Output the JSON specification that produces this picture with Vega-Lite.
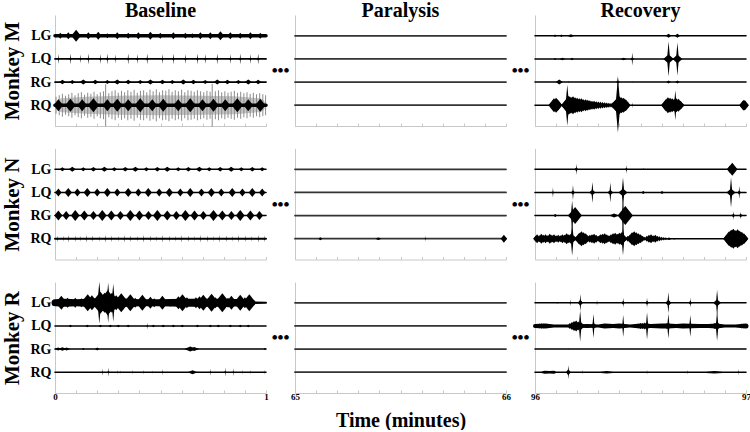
{
"$schema":"https://vega.github.io/schema/vega-lite/v6.json",
"background":"white",
"padding":{"left":1,"top":0,"right":0,"bottom":0},
"columns":3,
"spacing":{"row":22.5,"column":29},
"bounds":"flush",
"datasets":{
"M_B_trace":[
{"muscle":"LG","t":0,"amp":25},{"muscle":"LG","t":1,"amp":25},{"muscle":"LQ","t":0,"amp":8},{"muscle":"LQ","t":1,"amp":8},{"muscle":"RG","t":0,"amp":8},{"muscle":"RG","t":1,"amp":8},{"muscle":"RQ","t":0,"amp":25},{"muscle":"RQ","t":1,"amp":25}
],
"M_B_noise":[
{"muscle":"RQ","t":0,"amp":20},{"muscle":"RQ","t":0.035,"amp":130},{"muscle":"RQ","t":0.15,"amp":160},{"muscle":"RQ","t":0.3,"amp":180},{"muscle":"RQ","t":0.5,"amp":190},{"muscle":"RQ","t":0.7,"amp":180},{"muscle":"RQ","t":0.85,"amp":170},{"muscle":"RQ","t":0.965,"amp":130},{"muscle":"RQ","t":1,"amp":20}
],
"M_B_hatch":[
{"muscle":"RQ","t":0.005,"amp":170},{"muscle":"RQ","t":0.02,"amp":200},{"muscle":"RQ","t":0.035,"amp":230},{"muscle":"RQ","t":0.05,"amp":190},{"muscle":"RQ","t":0.065,"amp":220},{"muscle":"RQ","t":0.08,"amp":250},{"muscle":"RQ","t":0.095,"amp":200},{"muscle":"RQ","t":0.11,"amp":240},{"muscle":"RQ","t":0.125,"amp":260},{"muscle":"RQ","t":0.14,"amp":210},{"muscle":"RQ","t":0.155,"amp":250},{"muscle":"RQ","t":0.17,"amp":230},{"muscle":"RQ","t":0.185,"amp":270},{"muscle":"RQ","t":0.2,"amp":220},{"muscle":"RQ","t":0.215,"amp":260},{"muscle":"RQ","t":0.23,"amp":280},{"muscle":"RQ","t":0.24,"amp":420},{"muscle":"RQ","t":0.255,"amp":240},{"muscle":"RQ","t":0.27,"amp":280},{"muscle":"RQ","t":0.285,"amp":300},{"muscle":"RQ","t":0.3,"amp":250},{"muscle":"RQ","t":0.315,"amp":290},{"muscle":"RQ","t":0.33,"amp":260},{"muscle":"RQ","t":0.345,"amp":300},{"muscle":"RQ","t":0.36,"amp":270},{"muscle":"RQ","t":0.375,"amp":310},{"muscle":"RQ","t":0.39,"amp":250},{"muscle":"RQ","t":0.405,"amp":290},{"muscle":"RQ","t":0.42,"amp":300},{"muscle":"RQ","t":0.435,"amp":260},{"muscle":"RQ","t":0.45,"amp":310},{"muscle":"RQ","t":0.465,"amp":280},{"muscle":"RQ","t":0.48,"amp":320},{"muscle":"RQ","t":0.495,"amp":260},{"muscle":"RQ","t":0.51,"amp":300},{"muscle":"RQ","t":0.525,"amp":290},{"muscle":"RQ","t":0.54,"amp":320},{"muscle":"RQ","t":0.555,"amp":270},{"muscle":"RQ","t":0.57,"amp":300},{"muscle":"RQ","t":0.585,"amp":280},{"muscle":"RQ","t":0.6,"amp":310},{"muscle":"RQ","t":0.615,"amp":260},{"muscle":"RQ","t":0.63,"amp":300},{"muscle":"RQ","t":0.645,"amp":290},{"muscle":"RQ","t":0.66,"amp":270},{"muscle":"RQ","t":0.675,"amp":300},{"muscle":"RQ","t":0.69,"amp":280},{"muscle":"RQ","t":0.705,"amp":260},{"muscle":"RQ","t":0.72,"amp":290},{"muscle":"RQ","t":0.735,"amp":270},{"muscle":"RQ","t":0.745,"amp":430},{"muscle":"RQ","t":0.76,"amp":280},{"muscle":"RQ","t":0.775,"amp":300},{"muscle":"RQ","t":0.79,"amp":260},{"muscle":"RQ","t":0.805,"amp":280},{"muscle":"RQ","t":0.82,"amp":250},{"muscle":"RQ","t":0.835,"amp":270},{"muscle":"RQ","t":0.85,"amp":290},{"muscle":"RQ","t":0.865,"amp":250},{"muscle":"RQ","t":0.88,"amp":270},{"muscle":"RQ","t":0.895,"amp":240},{"muscle":"RQ","t":0.91,"amp":260},{"muscle":"RQ","t":0.925,"amp":230},{"muscle":"RQ","t":0.94,"amp":250},{"muscle":"RQ","t":0.955,"amp":220},{"muscle":"RQ","t":0.97,"amp":240},{"muscle":"RQ","t":0.985,"amp":220},{"muscle":"RQ","t":0.998,"amp":200}
],
"M_B_burst":[
{"muscle":"LG","t":0.025,"amp":60,"form":"burst"},{"muscle":"LG","t":0.063,"amp":70,"form":"burst"},{"muscle":"LG","t":0.1,"amp":120,"form":"burst"},{"muscle":"LG","t":0.158,"amp":70,"form":"burst"},{"muscle":"LG","t":0.205,"amp":80,"form":"burst"},{"muscle":"LG","t":0.248,"amp":50,"form":"burst"},{"muscle":"LG","t":0.295,"amp":70,"form":"burst"},{"muscle":"LG","t":0.347,"amp":60,"form":"burst"},{"muscle":"LG","t":0.395,"amp":70,"form":"burst"},{"muscle":"LG","t":0.452,"amp":80,"form":"burst"},{"muscle":"LG","t":0.499,"amp":60,"form":"burst"},{"muscle":"LG","t":0.561,"amp":70,"form":"burst"},{"muscle":"LG","t":0.618,"amp":60,"form":"burst"},{"muscle":"LG","t":0.651,"amp":50,"form":"burst"},{"muscle":"LG","t":0.689,"amp":70,"form":"burst"},{"muscle":"LG","t":0.736,"amp":70,"form":"burst"},{"muscle":"LG","t":0.784,"amp":90,"form":"burst"},{"muscle":"LG","t":0.831,"amp":70,"form":"burst"},{"muscle":"LG","t":0.878,"amp":60,"form":"burst"},{"muscle":"LG","t":0.926,"amp":70,"form":"burst"},{"muscle":"LG","t":0.973,"amp":60,"form":"burst"},
{"muscle":"LQ","t":0.016,"amp":100,"form":"spike"},{"muscle":"LQ","t":0.073,"amp":110,"form":"spike"},{"muscle":"LQ","t":0.12,"amp":90,"form":"spike"},{"muscle":"LQ","t":0.158,"amp":110,"form":"spike"},{"muscle":"LQ","t":0.215,"amp":100,"form":"spike"},{"muscle":"LQ","t":0.248,"amp":110,"form":"spike"},{"muscle":"LQ","t":0.286,"amp":90,"form":"spike"},{"muscle":"LQ","t":0.347,"amp":110,"form":"spike"},{"muscle":"LQ","t":0.39,"amp":100,"form":"spike"},{"muscle":"LQ","t":0.437,"amp":110,"form":"spike"},{"muscle":"LQ","t":0.509,"amp":100,"form":"spike"},{"muscle":"LQ","t":0.561,"amp":110,"form":"spike"},{"muscle":"LQ","t":0.618,"amp":100,"form":"spike"},{"muscle":"LQ","t":0.675,"amp":110,"form":"spike"},{"muscle":"LQ","t":0.712,"amp":100,"form":"spike"},{"muscle":"LQ","t":0.769,"amp":110,"form":"spike"},{"muscle":"LQ","t":0.831,"amp":100,"form":"spike"},{"muscle":"LQ","t":0.878,"amp":110,"form":"spike"},{"muscle":"LQ","t":0.926,"amp":100,"form":"spike"},{"muscle":"LQ","t":0.963,"amp":110,"form":"spike"},
{"muscle":"RG","t":0.035,"amp":45,"form":"blob"},{"muscle":"RG","t":0.082,"amp":40,"form":"blob"},{"muscle":"RG","t":0.134,"amp":50,"form":"blob"},{"muscle":"RG","t":0.191,"amp":45,"form":"blob"},{"muscle":"RG","t":0.248,"amp":40,"form":"blob"},{"muscle":"RG","t":0.295,"amp":50,"form":"blob"},{"muscle":"RG","t":0.347,"amp":45,"form":"blob"},{"muscle":"RG","t":0.404,"amp":40,"form":"blob"},{"muscle":"RG","t":0.452,"amp":50,"form":"blob"},{"muscle":"RG","t":0.509,"amp":45,"form":"blob"},{"muscle":"RG","t":0.556,"amp":40,"form":"blob"},{"muscle":"RG","t":0.608,"amp":50,"form":"blob"},{"muscle":"RG","t":0.656,"amp":45,"form":"blob"},{"muscle":"RG","t":0.712,"amp":40,"form":"blob"},{"muscle":"RG","t":0.769,"amp":50,"form":"blob"},{"muscle":"RG","t":0.817,"amp":45,"form":"blob"},{"muscle":"RG","t":0.869,"amp":40,"form":"blob"},{"muscle":"RG","t":0.916,"amp":50,"form":"blob"},{"muscle":"RG","t":0.963,"amp":45,"form":"blob"},
{"muscle":"RQ","t":0.016,"amp":120,"form":"burst"},{"muscle":"RQ","t":0.073,"amp":130,"form":"burst"},{"muscle":"RQ","t":0.129,"amp":120,"form":"burst"},{"muscle":"RQ","t":0.182,"amp":140,"form":"burst"},{"muscle":"RQ","t":0.248,"amp":120,"form":"burst"},{"muscle":"RQ","t":0.295,"amp":130,"form":"burst"},{"muscle":"RQ","t":0.347,"amp":120,"form":"burst"},{"muscle":"RQ","t":0.404,"amp":140,"form":"burst"},{"muscle":"RQ","t":0.461,"amp":120,"form":"burst"},{"muscle":"RQ","t":0.513,"amp":130,"form":"burst"},{"muscle":"RQ","t":0.584,"amp":120,"form":"burst"},{"muscle":"RQ","t":0.641,"amp":140,"form":"burst"},{"muscle":"RQ","t":0.699,"amp":120,"form":"burst"},{"muscle":"RQ","t":0.751,"amp":130,"form":"burst"},{"muscle":"RQ","t":0.807,"amp":120,"form":"burst"},{"muscle":"RQ","t":0.864,"amp":140,"form":"burst"},{"muscle":"RQ","t":0.916,"amp":120,"form":"burst"},{"muscle":"RQ","t":0.973,"amp":130,"form":"burst"}
],
"M_P_trace":[
{"muscle":"LG","t":65,"amp":8},{"muscle":"LG","t":66,"amp":8},{"muscle":"LQ","t":65,"amp":8},{"muscle":"LQ","t":66,"amp":8},{"muscle":"RG","t":65,"amp":8},{"muscle":"RG","t":66,"amp":8},{"muscle":"RQ","t":65,"amp":8},{"muscle":"RQ","t":66,"amp":8}
],
"M_R_trace":[
{"muscle":"LG","t":96,"amp":6},{"muscle":"LG","t":97,"amp":6},{"muscle":"LQ","t":96,"amp":6},{"muscle":"LQ","t":97,"amp":6},{"muscle":"RG","t":96,"amp":6},{"muscle":"RG","t":97,"amp":6},{"muscle":"RQ","t":96,"amp":6},{"muscle":"RQ","t":97,"amp":6}
],
"M_R_burst":[
{"muscle":"LG","t":96.095,"amp":25,"form":"blob"},{"muscle":"LG","t":96.125,"amp":25,"form":"blob"},{"muscle":"LG","t":96.17,"amp":30,"form":"wide"},{"muscle":"LG","t":96.4,"amp":20,"form":"spike"},{"muscle":"LG","t":96.633,"amp":40,"form":"blob"},{"muscle":"LG","t":96.675,"amp":40,"form":"blob"},
{"muscle":"LQ","t":96.095,"amp":20,"form":"blob"},{"muscle":"LQ","t":96.13,"amp":25,"form":"wide"},{"muscle":"LQ","t":96.175,"amp":25,"form":"blob"},{"muscle":"LQ","t":96.42,"amp":25,"form":"wide"},{"muscle":"LQ","t":96.461,"amp":130,"form":"spike"},{"muscle":"LQ","t":96.633,"amp":350,"form":"spike"},{"muscle":"LQ","t":96.633,"amp":90,"form":"burst"},{"muscle":"LQ","t":96.675,"amp":330,"form":"spike"},{"muscle":"LQ","t":96.675,"amp":90,"form":"burst"},
{"muscle":"RG","t":96.115,"amp":50,"form":"blob"},{"muscle":"RG","t":96.158,"amp":30,"form":"spike"},{"muscle":"RG","t":96.393,"amp":120,"form":"spike"},{"muscle":"RG","t":96.462,"amp":20,"form":"spike"},{"muscle":"RG","t":96.633,"amp":30,"form":"blob"},{"muscle":"RG","t":96.675,"amp":30,"form":"blob"},
{"muscle":"RQ","t":96.085,"amp":90,"form":"burst"},{"muscle":"RQ","t":96.09,"amp":140,"form":"burst"},{"muscle":"RQ","t":96.095,"amp":120,"form":"burst"},{"muscle":"RQ","t":96.1,"amp":150,"form":"burst"},{"muscle":"RQ","t":96.105,"amp":120,"form":"burst"},{"muscle":"RQ","t":96.11,"amp":100,"form":"burst"},{"muscle":"RQ","t":96.115,"amp":50,"form":"burst"},{"muscle":"RQ","t":96.14,"amp":60,"form":"burst"},{"muscle":"RQ","t":96.145,"amp":90,"form":"burst"},{"muscle":"RQ","t":96.153,"amp":410,"form":"spike"},{"muscle":"RQ","t":96.155,"amp":150,"form":"burst"},{"muscle":"RQ","t":96.16,"amp":190,"form":"burst"},{"muscle":"RQ","t":96.17,"amp":170,"form":"burst"},{"muscle":"RQ","t":96.18,"amp":180,"form":"burst"},{"muscle":"RQ","t":96.19,"amp":160,"form":"burst"},{"muscle":"RQ","t":96.2,"amp":150,"form":"burst"},{"muscle":"RQ","t":96.21,"amp":140,"form":"burst"},{"muscle":"RQ","t":96.22,"amp":140,"form":"burst"},{"muscle":"RQ","t":96.23,"amp":120,"form":"burst"},{"muscle":"RQ","t":96.24,"amp":120,"form":"burst"},{"muscle":"RQ","t":96.25,"amp":110,"form":"burst"},{"muscle":"RQ","t":96.26,"amp":100,"form":"burst"},{"muscle":"RQ","t":96.27,"amp":90,"form":"burst"},{"muscle":"RQ","t":96.28,"amp":90,"form":"burst"},{"muscle":"RQ","t":96.29,"amp":80,"form":"burst"},{"muscle":"RQ","t":96.3,"amp":75,"form":"burst"},{"muscle":"RQ","t":96.31,"amp":70,"form":"burst"},{"muscle":"RQ","t":96.32,"amp":65,"form":"burst"},{"muscle":"RQ","t":96.33,"amp":60,"form":"burst"},{"muscle":"RQ","t":96.34,"amp":55,"form":"burst"},{"muscle":"RQ","t":96.35,"amp":50,"form":"burst"},{"muscle":"RQ","t":96.36,"amp":45,"form":"burst"},{"muscle":"RQ","t":96.37,"amp":40,"form":"burst"},{"muscle":"RQ","t":96.38,"amp":60,"form":"burst"},{"muscle":"RQ","t":96.385,"amp":120,"form":"burst"},{"muscle":"RQ","t":96.39,"amp":150,"form":"burst"},{"muscle":"RQ","t":96.393,"amp":550,"form":"spike"},{"muscle":"RQ","t":96.4,"amp":180,"form":"burst"},{"muscle":"RQ","t":96.41,"amp":160,"form":"burst"},{"muscle":"RQ","t":96.42,"amp":150,"form":"burst"},{"muscle":"RQ","t":96.43,"amp":120,"form":"burst"},{"muscle":"RQ","t":96.44,"amp":60,"form":"burst"},{"muscle":"RQ","t":96.461,"amp":60,"form":"spike"},{"muscle":"RQ","t":96.62,"amp":120,"form":"burst"},{"muscle":"RQ","t":96.63,"amp":160,"form":"burst"},{"muscle":"RQ","t":96.64,"amp":150,"form":"burst"},{"muscle":"RQ","t":96.65,"amp":140,"form":"burst"},{"muscle":"RQ","t":96.66,"amp":130,"form":"burst"},{"muscle":"RQ","t":96.665,"amp":300,"form":"spike"},{"muscle":"RQ","t":96.67,"amp":140,"form":"burst"},{"muscle":"RQ","t":96.68,"amp":130,"form":"burst"},{"muscle":"RQ","t":96.69,"amp":90,"form":"burst"},{"muscle":"RQ","t":96.7,"amp":40,"form":"burst"},{"muscle":"RQ","t":96.985,"amp":90,"form":"burst"},{"muscle":"RQ","t":96.99,"amp":110,"form":"burst"},{"muscle":"RQ","t":96.995,"amp":100,"form":"burst"}
],
"N_B_trace":[
{"muscle":"LG","t":0,"amp":6},{"muscle":"LG","t":1,"amp":6},{"muscle":"LQ","t":0,"amp":6},{"muscle":"LQ","t":1,"amp":6},{"muscle":"RG","t":0,"amp":6},{"muscle":"RG","t":1,"amp":6},{"muscle":"RQ","t":0,"amp":10},{"muscle":"RQ","t":1,"amp":10}
],
"N_B_burst":[
{"muscle":"LG","t":0.035,"amp":40,"form":"blob"},{"muscle":"LG","t":0.082,"amp":50,"form":"blob"},{"muscle":"LG","t":0.134,"amp":40,"form":"blob"},{"muscle":"LG","t":0.182,"amp":45,"form":"blob"},{"muscle":"LG","t":0.234,"amp":50,"form":"blob"},{"muscle":"LG","t":0.281,"amp":40,"form":"blob"},{"muscle":"LG","t":0.333,"amp":45,"form":"blob"},{"muscle":"LG","t":0.381,"amp":50,"form":"blob"},{"muscle":"LG","t":0.433,"amp":40,"form":"blob"},{"muscle":"LG","t":0.485,"amp":45,"form":"blob"},{"muscle":"LG","t":0.532,"amp":50,"form":"blob"},{"muscle":"LG","t":0.584,"amp":40,"form":"blob"},{"muscle":"LG","t":0.632,"amp":45,"form":"blob"},{"muscle":"LG","t":0.684,"amp":50,"form":"blob"},{"muscle":"LG","t":0.731,"amp":40,"form":"blob"},{"muscle":"LG","t":0.783,"amp":45,"form":"blob"},{"muscle":"LG","t":0.835,"amp":50,"form":"blob"},{"muscle":"LG","t":0.883,"amp":40,"form":"blob"},{"muscle":"LG","t":0.935,"amp":45,"form":"blob"},{"muscle":"LG","t":0.982,"amp":40,"form":"blob"},
{"muscle":"LQ","t":0.016,"amp":80,"form":"burst"},{"muscle":"LQ","t":0.063,"amp":90,"form":"burst"},{"muscle":"LQ","t":0.106,"amp":80,"form":"burst"},{"muscle":"LQ","t":0.153,"amp":90,"form":"burst"},{"muscle":"LQ","t":0.2,"amp":80,"form":"burst"},{"muscle":"LQ","t":0.248,"amp":90,"form":"burst"},{"muscle":"LQ","t":0.295,"amp":80,"form":"burst"},{"muscle":"LQ","t":0.347,"amp":90,"form":"burst"},{"muscle":"LQ","t":0.395,"amp":80,"form":"burst"},{"muscle":"LQ","t":0.442,"amp":90,"form":"burst"},{"muscle":"LQ","t":0.494,"amp":80,"form":"burst"},{"muscle":"LQ","t":0.542,"amp":90,"form":"burst"},{"muscle":"LQ","t":0.594,"amp":80,"form":"burst"},{"muscle":"LQ","t":0.641,"amp":90,"form":"burst"},{"muscle":"LQ","t":0.694,"amp":80,"form":"burst"},{"muscle":"LQ","t":0.741,"amp":90,"form":"burst"},{"muscle":"LQ","t":0.788,"amp":80,"form":"burst"},{"muscle":"LQ","t":0.84,"amp":90,"form":"burst"},{"muscle":"LQ","t":0.888,"amp":80,"form":"burst"},{"muscle":"LQ","t":0.935,"amp":90,"form":"burst"},{"muscle":"LQ","t":0.982,"amp":80,"form":"burst"},
{"muscle":"RG","t":0.016,"amp":100,"form":"burst"},{"muscle":"RG","t":0.053,"amp":90,"form":"burst"},{"muscle":"RG","t":0.096,"amp":110,"form":"burst"},{"muscle":"RG","t":0.139,"amp":100,"form":"burst"},{"muscle":"RG","t":0.182,"amp":90,"form":"burst"},{"muscle":"RG","t":0.224,"amp":110,"form":"burst"},{"muscle":"RG","t":0.267,"amp":100,"form":"burst"},{"muscle":"RG","t":0.31,"amp":90,"form":"burst"},{"muscle":"RG","t":0.357,"amp":110,"form":"burst"},{"muscle":"RG","t":0.4,"amp":100,"form":"burst"},{"muscle":"RG","t":0.443,"amp":90,"form":"burst"},{"muscle":"RG","t":0.485,"amp":110,"form":"burst"},{"muscle":"RG","t":0.532,"amp":100,"form":"burst"},{"muscle":"RG","t":0.575,"amp":90,"form":"burst"},{"muscle":"RG","t":0.618,"amp":110,"form":"burst"},{"muscle":"RG","t":0.661,"amp":100,"form":"burst"},{"muscle":"RG","t":0.703,"amp":90,"form":"burst"},{"muscle":"RG","t":0.751,"amp":110,"form":"burst"},{"muscle":"RG","t":0.793,"amp":100,"form":"burst"},{"muscle":"RG","t":0.836,"amp":90,"form":"burst"},{"muscle":"RG","t":0.878,"amp":110,"form":"burst"},{"muscle":"RG","t":0.926,"amp":100,"form":"burst"},{"muscle":"RG","t":0.969,"amp":90,"form":"burst"},
{"muscle":"RQ","t":0.011,"amp":70,"form":"spike"},{"muscle":"RQ","t":0.039,"amp":60,"form":"spike"},{"muscle":"RQ","t":0.063,"amp":80,"form":"spike"},{"muscle":"RQ","t":0.096,"amp":70,"form":"spike"},{"muscle":"RQ","t":0.12,"amp":60,"form":"spike"},{"muscle":"RQ","t":0.148,"amp":80,"form":"spike"},{"muscle":"RQ","t":0.177,"amp":70,"form":"spike"},{"muscle":"RQ","t":0.21,"amp":60,"form":"spike"},{"muscle":"RQ","t":0.238,"amp":80,"form":"spike"},{"muscle":"RQ","t":0.267,"amp":70,"form":"spike"},{"muscle":"RQ","t":0.3,"amp":60,"form":"spike"},{"muscle":"RQ","t":0.328,"amp":80,"form":"spike"},{"muscle":"RQ","t":0.357,"amp":70,"form":"spike"},{"muscle":"RQ","t":0.39,"amp":60,"form":"spike"},{"muscle":"RQ","t":0.419,"amp":80,"form":"spike"},{"muscle":"RQ","t":0.452,"amp":70,"form":"spike"},{"muscle":"RQ","t":0.48,"amp":60,"form":"spike"},{"muscle":"RQ","t":0.508,"amp":80,"form":"spike"},{"muscle":"RQ","t":0.542,"amp":70,"form":"spike"},{"muscle":"RQ","t":0.57,"amp":60,"form":"spike"},{"muscle":"RQ","t":0.598,"amp":80,"form":"spike"},{"muscle":"RQ","t":0.632,"amp":70,"form":"spike"},{"muscle":"RQ","t":0.66,"amp":60,"form":"spike"},{"muscle":"RQ","t":0.689,"amp":80,"form":"spike"},{"muscle":"RQ","t":0.722,"amp":70,"form":"spike"},{"muscle":"RQ","t":0.75,"amp":60,"form":"spike"},{"muscle":"RQ","t":0.778,"amp":80,"form":"spike"},{"muscle":"RQ","t":0.812,"amp":70,"form":"spike"},{"muscle":"RQ","t":0.84,"amp":60,"form":"spike"},{"muscle":"RQ","t":0.869,"amp":80,"form":"spike"},{"muscle":"RQ","t":0.902,"amp":70,"form":"spike"},{"muscle":"RQ","t":0.931,"amp":60,"form":"spike"},{"muscle":"RQ","t":0.964,"amp":80,"form":"spike"},{"muscle":"RQ","t":0.992,"amp":70,"form":"spike"}
],
"N_P_trace":[
{"muscle":"LG","t":65,"amp":8},{"muscle":"LG","t":66,"amp":8},{"muscle":"LQ","t":65,"amp":8},{"muscle":"LQ","t":66,"amp":8},{"muscle":"RG","t":65,"amp":8},{"muscle":"RG","t":66,"amp":8},{"muscle":"RQ","t":65,"amp":8},{"muscle":"RQ","t":66,"amp":8}
],
"N_P_burst":[
{"muscle":"RQ","t":65.12,"amp":30,"form":"blob"},{"muscle":"RQ","t":65.395,"amp":25,"form":"wide"},{"muscle":"RQ","t":65.618,"amp":60,"form":"spike"},{"muscle":"RQ","t":65.99,"amp":80,"form":"burst"}
],
"N_R_trace":[
{"muscle":"LG","t":96,"amp":6},{"muscle":"LG","t":97,"amp":6},{"muscle":"LQ","t":96,"amp":6},{"muscle":"LQ","t":97,"amp":6},{"muscle":"RG","t":96,"amp":6},{"muscle":"RG","t":97,"amp":6},{"muscle":"RQ","t":96,"amp":6},{"muscle":"RQ","t":97,"amp":6}
],
"N_R_burst":[
{"muscle":"LG","t":96.082,"amp":20,"form":"spike"},{"muscle":"LG","t":96.196,"amp":110,"form":"spike"},{"muscle":"LG","t":96.196,"amp":40,"form":"burst"},{"muscle":"LG","t":96.433,"amp":90,"form":"spike"},{"muscle":"LG","t":96.433,"amp":30,"form":"burst"},{"muscle":"LG","t":96.514,"amp":15,"form":"blob"},{"muscle":"LG","t":96.925,"amp":80,"form":"burst"},{"muscle":"LG","t":96.935,"amp":130,"form":"burst"},
{"muscle":"LQ","t":96.085,"amp":100,"form":"spike"},{"muscle":"LQ","t":96.18,"amp":150,"form":"spike"},{"muscle":"LQ","t":96.18,"amp":40,"form":"burst"},{"muscle":"LQ","t":96.272,"amp":210,"form":"spike"},{"muscle":"LQ","t":96.272,"amp":50,"form":"burst"},{"muscle":"LQ","t":96.357,"amp":200,"form":"spike"},{"muscle":"LQ","t":96.357,"amp":40,"form":"burst"},{"muscle":"LQ","t":96.417,"amp":300,"form":"spike"},{"muscle":"LQ","t":96.513,"amp":30,"form":"blob"},{"muscle":"LQ","t":96.602,"amp":30,"form":"blob"},{"muscle":"LQ","t":96.929,"amp":300,"form":"spike"},{"muscle":"LQ","t":96.968,"amp":130,"form":"spike"},{"muscle":"LQ","t":96.968,"amp":40,"form":"burst"},
{"muscle":"RG","t":96.096,"amp":30,"form":"blob"},{"muscle":"RG","t":96.176,"amp":300,"form":"spike"},{"muscle":"RG","t":96.19,"amp":170,"form":"burst"},{"muscle":"RG","t":96.276,"amp":20,"form":"spike"},{"muscle":"RG","t":96.375,"amp":40,"form":"wide"},{"muscle":"RG","t":96.417,"amp":300,"form":"spike"},{"muscle":"RG","t":96.428,"amp":190,"form":"burst"},{"muscle":"RG","t":96.94,"amp":90,"form":"spike"},{"muscle":"RG","t":96.94,"amp":40,"form":"burst"},{"muscle":"RG","t":96.975,"amp":80,"form":"spike"},{"muscle":"RG","t":96.975,"amp":40,"form":"burst"},
{"muscle":"RQ","t":96.003,"amp":60,"form":"burst"},{"muscle":"RQ","t":96.01,"amp":90,"form":"burst"},{"muscle":"RQ","t":96.02,"amp":70,"form":"burst"},{"muscle":"RQ","t":96.03,"amp":100,"form":"burst"},{"muscle":"RQ","t":96.04,"amp":80,"form":"burst"},{"muscle":"RQ","t":96.05,"amp":90,"form":"burst"},{"muscle":"RQ","t":96.06,"amp":70,"form":"burst"},{"muscle":"RQ","t":96.07,"amp":100,"form":"burst"},{"muscle":"RQ","t":96.08,"amp":80,"form":"burst"},{"muscle":"RQ","t":96.09,"amp":90,"form":"burst"},{"muscle":"RQ","t":96.1,"amp":70,"form":"burst"},{"muscle":"RQ","t":96.11,"amp":80,"form":"burst"},{"muscle":"RQ","t":96.12,"amp":70,"form":"burst"},{"muscle":"RQ","t":96.13,"amp":90,"form":"burst"},{"muscle":"RQ","t":96.14,"amp":80,"form":"burst"},{"muscle":"RQ","t":96.15,"amp":110,"form":"burst"},{"muscle":"RQ","t":96.16,"amp":90,"form":"burst"},{"muscle":"RQ","t":96.17,"amp":100,"form":"burst"},{"muscle":"RQ","t":96.176,"amp":340,"form":"spike"},{"muscle":"RQ","t":96.18,"amp":60,"form":"burst"},{"muscle":"RQ","t":96.19,"amp":40,"form":"burst"},{"muscle":"RQ","t":96.2,"amp":60,"form":"burst"},{"muscle":"RQ","t":96.21,"amp":120,"form":"burst"},{"muscle":"RQ","t":96.22,"amp":150,"form":"burst"},{"muscle":"RQ","t":96.23,"amp":130,"form":"burst"},{"muscle":"RQ","t":96.24,"amp":110,"form":"burst"},{"muscle":"RQ","t":96.25,"amp":70,"form":"burst"},{"muscle":"RQ","t":96.26,"amp":80,"form":"burst"},{"muscle":"RQ","t":96.27,"amp":90,"form":"burst"},{"muscle":"RQ","t":96.28,"amp":100,"form":"burst"},{"muscle":"RQ","t":96.29,"amp":80,"form":"burst"},{"muscle":"RQ","t":96.3,"amp":60,"form":"burst"},{"muscle":"RQ","t":96.31,"amp":90,"form":"burst"},{"muscle":"RQ","t":96.32,"amp":100,"form":"burst"},{"muscle":"RQ","t":96.33,"amp":110,"form":"burst"},{"muscle":"RQ","t":96.34,"amp":90,"form":"burst"},{"muscle":"RQ","t":96.35,"amp":70,"form":"burst"},{"muscle":"RQ","t":96.36,"amp":90,"form":"burst"},{"muscle":"RQ","t":96.37,"amp":110,"form":"burst"},{"muscle":"RQ","t":96.38,"amp":120,"form":"burst"},{"muscle":"RQ","t":96.39,"amp":100,"form":"burst"},{"muscle":"RQ","t":96.4,"amp":120,"form":"burst"},{"muscle":"RQ","t":96.41,"amp":130,"form":"burst"},{"muscle":"RQ","t":96.417,"amp":330,"form":"spike"},{"muscle":"RQ","t":96.42,"amp":80,"form":"burst"},{"muscle":"RQ","t":96.43,"amp":40,"form":"burst"},{"muscle":"RQ","t":96.44,"amp":60,"form":"burst"},{"muscle":"RQ","t":96.45,"amp":80,"form":"burst"},{"muscle":"RQ","t":96.46,"amp":130,"form":"burst"},{"muscle":"RQ","t":96.47,"amp":150,"form":"burst"},{"muscle":"RQ","t":96.48,"amp":130,"form":"burst"},{"muscle":"RQ","t":96.49,"amp":110,"form":"burst"},{"muscle":"RQ","t":96.5,"amp":90,"form":"burst"},{"muscle":"RQ","t":96.51,"amp":60,"form":"burst"},{"muscle":"RQ","t":96.52,"amp":40,"form":"burst"},{"muscle":"RQ","t":96.53,"amp":60,"form":"burst"},{"muscle":"RQ","t":96.54,"amp":80,"form":"burst"},{"muscle":"RQ","t":96.55,"amp":90,"form":"burst"},{"muscle":"RQ","t":96.56,"amp":70,"form":"burst"},{"muscle":"RQ","t":96.57,"amp":80,"form":"burst"},{"muscle":"RQ","t":96.58,"amp":60,"form":"burst"},{"muscle":"RQ","t":96.59,"amp":50,"form":"burst"},{"muscle":"RQ","t":96.6,"amp":40,"form":"burst"},{"muscle":"RQ","t":96.61,"amp":35,"form":"burst"},{"muscle":"RQ","t":96.62,"amp":30,"form":"burst"},{"muscle":"RQ","t":96.635,"amp":25,"form":"wide"},{"muscle":"RQ","t":96.66,"amp":15,"form":"wide"},{"muscle":"RQ","t":96.91,"amp":80,"form":"burst"},{"muscle":"RQ","t":96.92,"amp":150,"form":"burst"},{"muscle":"RQ","t":96.93,"amp":180,"form":"burst"},{"muscle":"RQ","t":96.94,"amp":200,"form":"burst"},{"muscle":"RQ","t":96.95,"amp":170,"form":"burst"},{"muscle":"RQ","t":96.96,"amp":190,"form":"burst"},{"muscle":"RQ","t":96.97,"amp":160,"form":"burst"},{"muscle":"RQ","t":96.98,"amp":140,"form":"burst"},{"muscle":"RQ","t":96.99,"amp":110,"form":"burst"},{"muscle":"RQ","t":96.997,"amp":70,"form":"burst"}
],
"R_B_trace":[
{"muscle":"LG","t":0,"amp":60},{"muscle":"LG","t":0.05,"amp":70},{"muscle":"LG","t":0.1,"amp":60},{"muscle":"LG","t":0.2,"amp":80},{"muscle":"LG","t":0.3,"amp":80},{"muscle":"LG","t":0.4,"amp":60},{"muscle":"LG","t":0.5,"amp":60},{"muscle":"LG","t":0.6,"amp":70},{"muscle":"LG","t":0.7,"amp":70},{"muscle":"LG","t":0.8,"amp":70},{"muscle":"LG","t":0.9,"amp":60},{"muscle":"LG","t":0.935,"amp":50},{"muscle":"LG","t":0.95,"amp":15},{"muscle":"LG","t":1,"amp":10},
{"muscle":"LQ","t":0,"amp":6},{"muscle":"LQ","t":1,"amp":6},{"muscle":"RG","t":0,"amp":6},{"muscle":"RG","t":1,"amp":6},{"muscle":"RQ","t":0,"amp":6},{"muscle":"RQ","t":1,"amp":6}
],
"R_B_burst":[
{"muscle":"LG","t":0.03,"amp":140,"form":"burst"},{"muscle":"LG","t":0.06,"amp":100,"form":"burst"},{"muscle":"LG","t":0.096,"amp":100,"form":"burst"},{"muscle":"LG","t":0.125,"amp":90,"form":"burst"},{"muscle":"LG","t":0.155,"amp":170,"form":"burst"},{"muscle":"LG","t":0.175,"amp":150,"form":"burst"},{"muscle":"LG","t":0.21,"amp":420,"form":"spike"},{"muscle":"LG","t":0.215,"amp":220,"form":"burst"},{"muscle":"LG","t":0.235,"amp":200,"form":"burst"},{"muscle":"LG","t":0.25,"amp":250,"form":"burst"},{"muscle":"LG","t":0.252,"amp":400,"form":"spike"},{"muscle":"LG","t":0.27,"amp":200,"form":"burst"},{"muscle":"LG","t":0.276,"amp":380,"form":"spike"},{"muscle":"LG","t":0.29,"amp":150,"form":"burst"},{"muscle":"LG","t":0.314,"amp":190,"form":"burst"},{"muscle":"LG","t":0.357,"amp":170,"form":"burst"},{"muscle":"LG","t":0.38,"amp":100,"form":"burst"},{"muscle":"LG","t":0.414,"amp":160,"form":"burst"},{"muscle":"LG","t":0.452,"amp":120,"form":"burst"},{"muscle":"LG","t":0.47,"amp":90,"form":"burst"},{"muscle":"LG","t":0.509,"amp":140,"form":"burst"},{"muscle":"LG","t":0.546,"amp":80,"form":"burst"},{"muscle":"LG","t":0.585,"amp":130,"form":"burst"},{"muscle":"LG","t":0.604,"amp":170,"form":"burst"},{"muscle":"LG","t":0.625,"amp":110,"form":"burst"},{"muscle":"LG","t":0.668,"amp":110,"form":"burst"},{"muscle":"LG","t":0.685,"amp":130,"form":"burst"},{"muscle":"LG","t":0.703,"amp":160,"form":"burst"},{"muscle":"LG","t":0.742,"amp":180,"form":"burst"},{"muscle":"LG","t":0.76,"amp":110,"form":"burst"},{"muscle":"LG","t":0.793,"amp":190,"form":"burst"},{"muscle":"LG","t":0.82,"amp":100,"form":"burst"},{"muscle":"LG","t":0.836,"amp":140,"form":"burst"},{"muscle":"LG","t":0.878,"amp":160,"form":"burst"},{"muscle":"LG","t":0.9,"amp":110,"form":"burst"},{"muscle":"LG","t":0.921,"amp":170,"form":"burst"},
{"muscle":"LQ","t":0.073,"amp":25,"form":"blob"},{"muscle":"LQ","t":0.153,"amp":25,"form":"blob"},{"muscle":"LQ","t":0.215,"amp":25,"form":"blob"},{"muscle":"LQ","t":0.262,"amp":25,"form":"blob"},{"muscle":"LQ","t":0.3,"amp":25,"form":"blob"},{"muscle":"LQ","t":0.347,"amp":25,"form":"blob"},{"muscle":"LQ","t":0.437,"amp":70,"form":"spike"},{"muscle":"LQ","t":0.466,"amp":25,"form":"blob"},{"muscle":"LQ","t":0.513,"amp":25,"form":"blob"},{"muscle":"LQ","t":0.561,"amp":25,"form":"blob"},{"muscle":"LQ","t":0.603,"amp":25,"form":"blob"},{"muscle":"LQ","t":0.675,"amp":25,"form":"blob"},{"muscle":"LQ","t":0.736,"amp":25,"form":"blob"},{"muscle":"LQ","t":0.774,"amp":25,"form":"blob"},{"muscle":"LQ","t":0.831,"amp":25,"form":"blob"},{"muscle":"LQ","t":0.878,"amp":25,"form":"blob"},{"muscle":"LQ","t":0.916,"amp":25,"form":"blob"},
{"muscle":"RG","t":0.015,"amp":30,"form":"wide"},{"muscle":"RG","t":0.035,"amp":35,"form":"wide"},{"muscle":"RG","t":0.055,"amp":30,"form":"wide"},{"muscle":"RG","t":0.134,"amp":20,"form":"blob"},{"muscle":"RG","t":0.2,"amp":30,"form":"blob"},{"muscle":"RG","t":0.641,"amp":50,"form":"wide"},{"muscle":"RG","t":0.66,"amp":40,"form":"wide"},{"muscle":"RG","t":0.995,"amp":20,"form":"blob"},
{"muscle":"RQ","t":0.058,"amp":20,"form":"spike"},{"muscle":"RQ","t":0.153,"amp":20,"form":"spike"},{"muscle":"RQ","t":0.224,"amp":70,"form":"spike"},{"muscle":"RQ","t":0.253,"amp":90,"form":"spike"},{"muscle":"RQ","t":0.296,"amp":50,"form":"spike"},{"muscle":"RQ","t":0.31,"amp":40,"form":"spike"},{"muscle":"RQ","t":0.366,"amp":50,"form":"spike"},{"muscle":"RQ","t":0.419,"amp":50,"form":"spike"},{"muscle":"RQ","t":0.461,"amp":40,"form":"spike"},{"muscle":"RQ","t":0.509,"amp":60,"form":"spike"},{"muscle":"RQ","t":0.652,"amp":40,"form":"wide"},{"muscle":"RQ","t":0.736,"amp":70,"form":"spike"},{"muscle":"RQ","t":0.807,"amp":90,"form":"spike"},{"muscle":"RQ","t":0.845,"amp":80,"form":"spike"},{"muscle":"RQ","t":0.888,"amp":50,"form":"spike"},{"muscle":"RQ","t":0.926,"amp":50,"form":"spike"},{"muscle":"RQ","t":0.995,"amp":50,"form":"spike"}
],
"R_P_trace":[
{"muscle":"LG","t":65,"amp":8},{"muscle":"LG","t":66,"amp":8},{"muscle":"LQ","t":65,"amp":8},{"muscle":"LQ","t":66,"amp":8},{"muscle":"RG","t":65,"amp":8},{"muscle":"RG","t":66,"amp":8},{"muscle":"RQ","t":65,"amp":8},{"muscle":"RQ","t":66,"amp":8}
],
"R_R_trace":[
{"muscle":"LG","t":96,"amp":6},{"muscle":"LG","t":97,"amp":6},
{"muscle":"LQ","t":96,"amp":30},{"muscle":"LQ","t":96.05,"amp":40},{"muscle":"LQ","t":96.09,"amp":20},{"muscle":"LQ","t":96.15,"amp":20},{"muscle":"LQ","t":96.25,"amp":30},{"muscle":"LQ","t":96.3,"amp":20},{"muscle":"LQ","t":96.33,"amp":40},{"muscle":"LQ","t":96.37,"amp":30},{"muscle":"LQ","t":96.4,"amp":40},{"muscle":"LQ","t":96.45,"amp":20},{"muscle":"LQ","t":96.5,"amp":40},{"muscle":"LQ","t":96.55,"amp":30},{"muscle":"LQ","t":96.6,"amp":40},{"muscle":"LQ","t":96.63,"amp":40},{"muscle":"LQ","t":96.67,"amp":30},{"muscle":"LQ","t":96.7,"amp":40},{"muscle":"LQ","t":96.78,"amp":30},{"muscle":"LQ","t":96.82,"amp":30},{"muscle":"LQ","t":96.86,"amp":40},{"muscle":"LQ","t":96.9,"amp":20},{"muscle":"LQ","t":96.95,"amp":20},{"muscle":"LQ","t":97,"amp":40},
{"muscle":"RG","t":96,"amp":6},{"muscle":"RG","t":97,"amp":6},
{"muscle":"RQ","t":96,"amp":6},{"muscle":"RQ","t":96.03,"amp":6},{"muscle":"RQ","t":96.045,"amp":20},{"muscle":"RQ","t":96.07,"amp":15},{"muscle":"RQ","t":96.09,"amp":20},{"muscle":"RQ","t":96.1,"amp":6},{"muscle":"RQ","t":96.31,"amp":6},{"muscle":"RQ","t":96.34,"amp":15},{"muscle":"RQ","t":96.37,"amp":6},{"muscle":"RQ","t":96.81,"amp":6},{"muscle":"RQ","t":96.85,"amp":15},{"muscle":"RQ","t":96.89,"amp":6},{"muscle":"RQ","t":97,"amp":6}
],
"R_R_burst":[
{"muscle":"LG","t":96.106,"amp":15,"form":"blob"},{"muscle":"LG","t":96.167,"amp":70,"form":"spike"},{"muscle":"LG","t":96.215,"amp":170,"form":"spike"},{"muscle":"LG","t":96.215,"amp":60,"form":"burst"},{"muscle":"LG","t":96.294,"amp":60,"form":"spike"},{"muscle":"LG","t":96.418,"amp":100,"form":"spike"},{"muscle":"LG","t":96.418,"amp":40,"form":"burst"},{"muscle":"LG","t":96.531,"amp":100,"form":"spike"},{"muscle":"LG","t":96.531,"amp":40,"form":"burst"},{"muscle":"LG","t":96.632,"amp":210,"form":"spike"},{"muscle":"LG","t":96.632,"amp":60,"form":"burst"},{"muscle":"LG","t":96.736,"amp":100,"form":"spike"},{"muscle":"LG","t":96.736,"amp":40,"form":"burst"},{"muscle":"LG","t":96.863,"amp":260,"form":"spike"},{"muscle":"LG","t":96.863,"amp":60,"form":"burst"},
{"muscle":"LQ","t":96.02,"amp":50,"form":"burst"},{"muscle":"LQ","t":96.03,"amp":55,"form":"burst"},{"muscle":"LQ","t":96.04,"amp":50,"form":"burst"},{"muscle":"LQ","t":96.165,"amp":60,"form":"burst"},{"muscle":"LQ","t":96.175,"amp":80,"form":"burst"},{"muscle":"LQ","t":96.185,"amp":100,"form":"burst"},{"muscle":"LQ","t":96.195,"amp":110,"form":"burst"},{"muscle":"LQ","t":96.205,"amp":90,"form":"burst"},{"muscle":"LQ","t":96.214,"amp":310,"form":"spike"},{"muscle":"LQ","t":96.22,"amp":70,"form":"burst"},{"muscle":"LQ","t":96.277,"amp":240,"form":"spike"},{"muscle":"LQ","t":96.418,"amp":220,"form":"spike"},{"muscle":"LQ","t":96.49,"amp":50,"form":"burst"},{"muscle":"LQ","t":96.5,"amp":60,"form":"burst"},{"muscle":"LQ","t":96.51,"amp":60,"form":"burst"},{"muscle":"LQ","t":96.52,"amp":70,"form":"burst"},{"muscle":"LQ","t":96.531,"amp":270,"form":"spike"},{"muscle":"LQ","t":96.625,"amp":60,"form":"burst"},{"muscle":"LQ","t":96.632,"amp":250,"form":"spike"},{"muscle":"LQ","t":96.736,"amp":220,"form":"spike"},{"muscle":"LQ","t":96.85,"amp":60,"form":"burst"},{"muscle":"LQ","t":96.86,"amp":70,"form":"burst"},{"muscle":"LQ","t":96.863,"amp":300,"form":"spike"},{"muscle":"LQ","t":96.98,"amp":50,"form":"burst"},{"muscle":"LQ","t":96.99,"amp":50,"form":"burst"},
{"muscle":"RG","t":96.158,"amp":20,"form":"spike"},
{"muscle":"RQ","t":96.158,"amp":140,"form":"spike"},{"muscle":"RQ","t":96.158,"amp":60,"form":"burst"},{"muscle":"RQ","t":96.224,"amp":50,"form":"spike"},{"muscle":"RQ","t":96.531,"amp":50,"form":"spike"},{"muscle":"RQ","t":96.722,"amp":50,"form":"spike"},{"muscle":"RQ","t":96.964,"amp":60,"form":"spike"}
]
},
"concat":[
{"width":211,"height":111,"title":"Baseline","resolve":{"scale":{"size":"independent"}},
 "encoding":{"x":{"field":"t","type":"quantitative","scale":{"domain":[0,1],"nice":false,"zero":false},"axis":{"labels":false,"title":null}},"y":{"field":"muscle","type":"nominal","scale":{"type":"point","domain":["LG","LQ","RG","RQ"],"padding":0.9},"axis":{"title":"Monkey M"}}},
 "layer":[
  {"data":{"name":"M_B_noise"},"mark":{"type":"trail","color":"#c4c4c4"},"encoding":{"size":{"field":"amp","type":"quantitative","scale":{"domain":[0,600],"range":[1,61]},"legend":null},"detail":{"field":"muscle"}}},
  {"data":{"name":"M_B_hatch"},"mark":{"type":"tick","color":"#8c8c8c","thickness":1,"opacity":1,"orient":"vertical"},"encoding":{"size":{"field":"amp","type":"quantitative","scale":{"domain":[0,600],"range":[0,60]},"legend":null}}},
  {"data":{"name":"M_B_trace"},"mark":{"type":"trail","color":"black"},"encoding":{"size":{"field":"amp","type":"quantitative","scale":{"domain":[0,600],"range":[1,61]},"legend":null},"detail":{"field":"muscle"}}},
  {"data":{"name":"M_B_burst"},"mark":{"type":"point","filled":true,"color":"black","opacity":1,"strokeWidth":0},"encoding":{"size":{"field":"amp","type":"quantitative","scale":{"type":"pow","exponent":2,"domain":[0,600],"range":[0,3600]},"legend":null},"shape":{"field":"form","type":"nominal","scale":{"domain":["burst","blob","wide","spike"],"range":["M0,-1L0.8,0L0,1L-0.8,0Z","M0,-1L1.4,0L0,1L-1.4,0Z","M0,-1L2.4,0L0,1L-2.4,0Z","M0,-1L0.07,-0.2L0.3,0L0.07,0.2L0,1L-0.07,0.2L-0.3,0L-0.07,-0.2Z"]},"legend":null}}}
 ]},
{"width":211,"height":111,"title":"Paralysis","resolve":{"scale":{"size":"independent"}},
 "encoding":{"x":{"field":"t","type":"quantitative","scale":{"domain":[65,66],"nice":false,"zero":false},"axis":{"labels":false,"title":null}},"y":{"field":"muscle","type":"nominal","scale":{"type":"point","domain":["LG","LQ","RG","RQ"],"padding":0.9},"axis":{"labels":false,"title":"•••","titleAngle":0,"titleAlign":"right","titleBaseline":"middle","titleFontSize":17,"titlePadding":6}}},
 "layer":[
  {"data":{"name":"M_P_trace"},"mark":{"type":"trail","color":"#333333"},"encoding":{"size":{"field":"amp","type":"quantitative","scale":{"domain":[0,600],"range":[1,61]},"legend":null},"detail":{"field":"muscle"}}}
 ]},
{"width":211,"height":111,"title":"Recovery","resolve":{"scale":{"size":"independent"}},
 "encoding":{"x":{"field":"t","type":"quantitative","scale":{"domain":[96,97],"nice":false,"zero":false},"axis":{"labels":false,"title":null}},"y":{"field":"muscle","type":"nominal","scale":{"type":"point","domain":["LG","LQ","RG","RQ"],"padding":0.9},"axis":{"labels":false,"title":"•••","titleAngle":0,"titleAlign":"right","titleBaseline":"middle","titleFontSize":17,"titlePadding":6}}},
 "layer":[
  {"data":{"name":"M_R_trace"},"mark":{"type":"trail","color":"black"},"encoding":{"size":{"field":"amp","type":"quantitative","scale":{"domain":[0,600],"range":[1,61]},"legend":null},"detail":{"field":"muscle"}}},
  {"data":{"name":"M_R_burst"},"mark":{"type":"point","filled":true,"color":"black","opacity":1,"strokeWidth":0},"encoding":{"size":{"field":"amp","type":"quantitative","scale":{"type":"pow","exponent":2,"domain":[0,600],"range":[0,3600]},"legend":null},"shape":{"field":"form","type":"nominal","scale":{"domain":["burst","blob","wide","spike"],"range":["M0,-1L0.8,0L0,1L-0.8,0Z","M0,-1L1.4,0L0,1L-1.4,0Z","M0,-1L2.4,0L0,1L-2.4,0Z","M0,-1L0.07,-0.2L0.3,0L0.07,0.2L0,1L-0.07,0.2L-0.3,0L-0.07,-0.2Z"]},"legend":null}}}
 ]},
{"width":211,"height":111,"resolve":{"scale":{"size":"independent"}},
 "encoding":{"x":{"field":"t","type":"quantitative","scale":{"domain":[0,1],"nice":false,"zero":false},"axis":{"labels":false,"title":null}},"y":{"field":"muscle","type":"nominal","scale":{"type":"point","domain":["LG","LQ","RG","RQ"],"padding":0.9},"axis":{"title":"Monkey N"}}},
 "layer":[
  {"data":{"name":"N_B_trace"},"mark":{"type":"trail","color":"black"},"encoding":{"size":{"field":"amp","type":"quantitative","scale":{"domain":[0,600],"range":[1,61]},"legend":null},"detail":{"field":"muscle"}}},
  {"data":{"name":"N_B_burst"},"mark":{"type":"point","filled":true,"color":"black","opacity":1,"strokeWidth":0},"encoding":{"size":{"field":"amp","type":"quantitative","scale":{"type":"pow","exponent":2,"domain":[0,600],"range":[0,3600]},"legend":null},"shape":{"field":"form","type":"nominal","scale":{"domain":["burst","blob","wide","spike"],"range":["M0,-1L0.8,0L0,1L-0.8,0Z","M0,-1L1.4,0L0,1L-1.4,0Z","M0,-1L2.4,0L0,1L-2.4,0Z","M0,-1L0.07,-0.2L0.3,0L0.07,0.2L0,1L-0.07,0.2L-0.3,0L-0.07,-0.2Z"]},"legend":null}}}
 ]},
{"width":211,"height":111,"resolve":{"scale":{"size":"independent"}},
 "encoding":{"x":{"field":"t","type":"quantitative","scale":{"domain":[65,66],"nice":false,"zero":false},"axis":{"labels":false,"title":null}},"y":{"field":"muscle","type":"nominal","scale":{"type":"point","domain":["LG","LQ","RG","RQ"],"padding":0.9},"axis":{"labels":false,"title":"•••","titleAngle":0,"titleAlign":"right","titleBaseline":"middle","titleFontSize":17,"titlePadding":6}}},
 "layer":[
  {"data":{"name":"N_P_trace"},"mark":{"type":"trail","color":"#333333"},"encoding":{"size":{"field":"amp","type":"quantitative","scale":{"domain":[0,600],"range":[1,61]},"legend":null},"detail":{"field":"muscle"}}},
  {"data":{"name":"N_P_burst"},"mark":{"type":"point","filled":true,"color":"black","opacity":1,"strokeWidth":0},"encoding":{"size":{"field":"amp","type":"quantitative","scale":{"type":"pow","exponent":2,"domain":[0,600],"range":[0,3600]},"legend":null},"shape":{"field":"form","type":"nominal","scale":{"domain":["burst","blob","wide","spike"],"range":["M0,-1L0.8,0L0,1L-0.8,0Z","M0,-1L1.4,0L0,1L-1.4,0Z","M0,-1L2.4,0L0,1L-2.4,0Z","M0,-1L0.07,-0.2L0.3,0L0.07,0.2L0,1L-0.07,0.2L-0.3,0L-0.07,-0.2Z"]},"legend":null}}}
 ]},
{"width":211,"height":111,"resolve":{"scale":{"size":"independent"}},
 "encoding":{"x":{"field":"t","type":"quantitative","scale":{"domain":[96,97],"nice":false,"zero":false},"axis":{"labels":false,"title":null}},"y":{"field":"muscle","type":"nominal","scale":{"type":"point","domain":["LG","LQ","RG","RQ"],"padding":0.9},"axis":{"labels":false,"title":"•••","titleAngle":0,"titleAlign":"right","titleBaseline":"middle","titleFontSize":17,"titlePadding":6}}},
 "layer":[
  {"data":{"name":"N_R_trace"},"mark":{"type":"trail","color":"black"},"encoding":{"size":{"field":"amp","type":"quantitative","scale":{"domain":[0,600],"range":[1,61]},"legend":null},"detail":{"field":"muscle"}}},
  {"data":{"name":"N_R_burst"},"mark":{"type":"point","filled":true,"color":"black","opacity":1,"strokeWidth":0},"encoding":{"size":{"field":"amp","type":"quantitative","scale":{"type":"pow","exponent":2,"domain":[0,600],"range":[0,3600]},"legend":null},"shape":{"field":"form","type":"nominal","scale":{"domain":["burst","blob","wide","spike"],"range":["M0,-1L0.8,0L0,1L-0.8,0Z","M0,-1L1.4,0L0,1L-1.4,0Z","M0,-1L2.4,0L0,1L-2.4,0Z","M0,-1L0.07,-0.2L0.3,0L0.07,0.2L0,1L-0.07,0.2L-0.3,0L-0.07,-0.2Z"]},"legend":null}}}
 ]},
{"width":211,"height":111,"resolve":{"scale":{"size":"independent"}},
 "encoding":{"x":{"field":"t","type":"quantitative","scale":{"domain":[0,1],"nice":false,"zero":false},"axis":{"labelExpr":"datum.value % 1 === 0 ? format(datum.value, 'd') : ''","title":null}},"y":{"field":"muscle","type":"nominal","scale":{"type":"point","domain":["LG","LQ","RG","RQ"],"padding":0.9},"axis":{"title":"Monkey R"}}},
 "layer":[
  {"data":{"name":"R_B_trace"},"mark":{"type":"trail","color":"black"},"encoding":{"size":{"field":"amp","type":"quantitative","scale":{"domain":[0,600],"range":[1,61]},"legend":null},"detail":{"field":"muscle"}}},
  {"data":{"name":"R_B_burst"},"mark":{"type":"point","filled":true,"color":"black","opacity":1,"strokeWidth":0},"encoding":{"size":{"field":"amp","type":"quantitative","scale":{"type":"pow","exponent":2,"domain":[0,600],"range":[0,3600]},"legend":null},"shape":{"field":"form","type":"nominal","scale":{"domain":["burst","blob","wide","spike"],"range":["M0,-1L0.8,0L0,1L-0.8,0Z","M0,-1L1.4,0L0,1L-1.4,0Z","M0,-1L2.4,0L0,1L-2.4,0Z","M0,-1L0.07,-0.2L0.3,0L0.07,0.2L0,1L-0.07,0.2L-0.3,0L-0.07,-0.2Z"]},"legend":null}}}
 ]},
{"width":211,"height":111,"resolve":{"scale":{"size":"independent"}},
 "encoding":{"x":{"field":"t","type":"quantitative","scale":{"domain":[65,66],"nice":false,"zero":false},"axis":{"labelExpr":"datum.value % 1 === 0 ? format(datum.value, 'd') : ''","title":"Time (minutes)","titleFontSize":20,"titlePadding":9}},"y":{"field":"muscle","type":"nominal","scale":{"type":"point","domain":["LG","LQ","RG","RQ"],"padding":0.9},"axis":{"labels":false,"title":"•••","titleAngle":0,"titleAlign":"right","titleBaseline":"middle","titleFontSize":17,"titlePadding":6}}},
 "layer":[
  {"data":{"name":"R_P_trace"},"mark":{"type":"trail","color":"#333333"},"encoding":{"size":{"field":"amp","type":"quantitative","scale":{"domain":[0,600],"range":[1,61]},"legend":null},"detail":{"field":"muscle"}}}
 ]},
{"width":211,"height":111,"resolve":{"scale":{"size":"independent"}},
 "encoding":{"x":{"field":"t","type":"quantitative","scale":{"domain":[96,97],"nice":false,"zero":false},"axis":{"labelExpr":"datum.value % 1 === 0 ? format(datum.value, 'd') : ''","title":null}},"y":{"field":"muscle","type":"nominal","scale":{"type":"point","domain":["LG","LQ","RG","RQ"],"padding":0.9},"axis":{"labels":false,"title":"•••","titleAngle":0,"titleAlign":"right","titleBaseline":"middle","titleFontSize":17,"titlePadding":6}}},
 "layer":[
  {"data":{"name":"R_R_trace"},"mark":{"type":"trail","color":"black"},"encoding":{"size":{"field":"amp","type":"quantitative","scale":{"domain":[0,600],"range":[1,61]},"legend":null},"detail":{"field":"muscle"}}},
  {"data":{"name":"R_R_burst"},"mark":{"type":"point","filled":true,"color":"black","opacity":1,"strokeWidth":0},"encoding":{"size":{"field":"amp","type":"quantitative","scale":{"type":"pow","exponent":2,"domain":[0,600],"range":[0,3600]},"legend":null},"shape":{"field":"form","type":"nominal","scale":{"domain":["burst","blob","wide","spike"],"range":["M0,-1L0.8,0L0,1L-0.8,0Z","M0,-1L1.4,0L0,1L-1.4,0Z","M0,-1L2.4,0L0,1L-2.4,0Z","M0,-1L0.07,-0.2L0.3,0L0.07,0.2L0,1L-0.07,0.2L-0.3,0L-0.07,-0.2Z"]},"legend":null}}}
 ]}
],
"config":{
 "view":{"stroke":null},
 "font":"Liberation Serif",
 "title":{"font":"Liberation Serif","fontSize":20,"fontWeight":"bold","color":"black","anchor":"middle","frame":"group","offset":-5.5,"baseline":"alphabetic"},
 "axis":{"labelFont":"Liberation Serif","titleFont":"Liberation Serif","labelFontWeight":"bold","titleFontWeight":"bold","labelColor":"black","titleColor":"black","domainColor":"#c8c8c8","tickColor":"#c8c8c8","grid":false},
 "axisX":{"labelFontSize":9,"tickSize":-3,"labelPadding":2,"titleFontSize":21,"titlePadding":6,"labelFlush":false,"labelOverlap":false,"tickCount":10},
 "axisY":{"labelFontSize":14,"labelPadding":4,"ticks":false,"titleFontSize":21,"titlePadding":8}
}
}
